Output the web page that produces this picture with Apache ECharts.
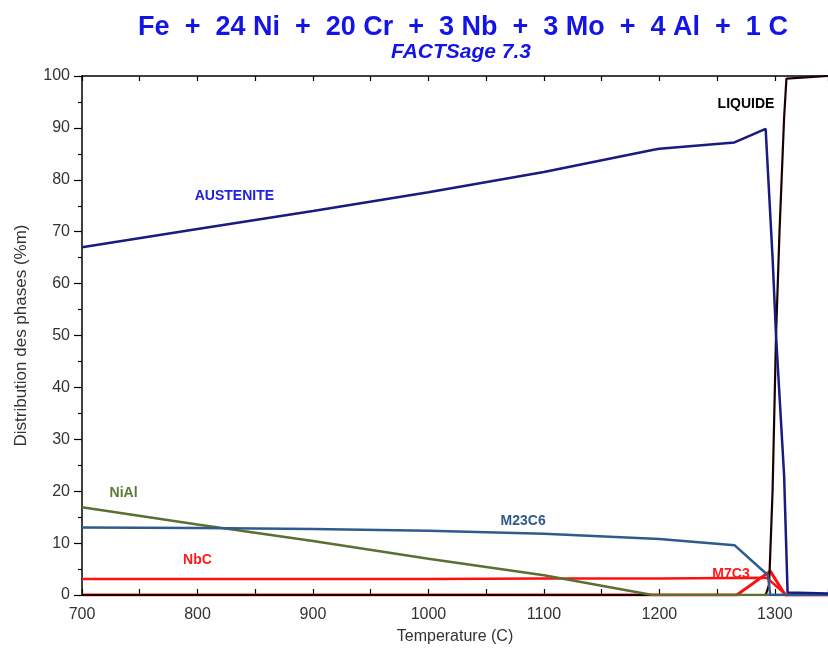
<!DOCTYPE html>
<html>
<head>
<meta charset="utf-8">
<script src="https://cdn.jsdelivr.net/npm/echarts@6/dist/echarts.min.js"></script>
<style>html,body{margin:0;padding:0;background:#fff;}#c{width:828px;height:650px;}</style>
</head>
<body>
<div id="c"></div>
<script>
// Temperatures (C) and phase amounts (%m)
var austeniteT = [700, 800, 900, 1000, 1100, 1195, 1200, 1265, 1292, 1298, 1301, 1308, 1311, 1346];
var austeniteV = [67.0, 70.5, 74.0, 77.6, 81.5, 85.8, 86.0, 87.2, 89.8, 65, 50, 23, 0.5, 0.3];

var liquideT = [700, 1292, 1295, 1298, 1301, 1304, 1308, 1310, 1346];
var liquideV = [0, 0, 2, 20, 50, 70, 92, 99.5, 100];

var m23c6T = [700, 800, 900, 1000, 1100, 1200, 1265, 1294, 1296, 1346];
var m23c6V = [13.0, 12.9, 12.7, 12.4, 11.8, 10.8, 9.6, 3.8, 0, 0];

var nialT = [700, 800, 900, 1000, 1100, 1194, 1346];
var nialV = [16.9, 13.6, 10.4, 7.0, 3.8, 0, 0];

var nbcT = [700, 800, 900, 1000, 1100, 1200, 1293, 1310, 1346];
var nbcV = [3.1, 3.1, 3.1, 3.1, 3.2, 3.2, 3.3, 0, 0];

var m7c3T = [700, 1267, 1296, 1309, 1346];
var m7c3V = [0, 0, 4.6, 0, 0];

var xTicks = [700, 800, 900, 1000, 1100, 1200, 1300];
var yTicks = [0, 10, 20, 30, 40, 50, 60, 70, 80, 90, 100];

function pairs(t, v) { return t.map(function (x, i) { return [x, v[i]]; }); }

var chart = echarts.init(document.getElementById('c'));
var font = 'Liberation Sans, Arial, sans-serif';

function lbl(text, coord, color) {
  return {
    symbol: 'rect', symbolSize: 1, silent: true,
    itemStyle: { color: 'rgba(0,0,0,0)' },
    label: { show: true, position: 'inside', formatter: text, color: color, fontWeight: 'bold', fontSize: 14, fontFamily: font },
    data: [{ coord: coord, name: text }]
  };
}

chart.setOption({
  animation: false,
  backgroundColor: '#fff',
  title: [
    { text: 'Fe  +  24 Ni  +  20 Cr  +  3 Nb  +  3 Mo  +  4 Al  +  1 C', left: 458, top: 9, textAlign: 'center',
      textStyle: { color: '#1414e6', fontSize: 27, fontWeight: 'bold', fontFamily: font } },
    { text: 'FACTSage 7.3', left: 456, top: 37, textAlign: 'center',
      textStyle: { color: '#1414e6', fontSize: 21, fontWeight: 'bold', fontStyle: 'italic', fontFamily: font } }
  ],
  grid: { left: 82, top: 76, right: 0, bottom: 51, containLabel: false },
  xAxis: [{
    type: 'value', min: 700, max: 1346, interval: 100, position: 'bottom',
    name: 'Temperature (C)', nameLocation: 'middle', nameGap: 34,
    nameTextStyle: { color: '#333', fontSize: 16, fontFamily: font },
    axisLine: { show: true, lineStyle: { color: '#000', width: 1.5 } },
    axisTick: { show: true, inside: true, length: 6, lineStyle: { color: '#000', width: 1.2 } },
    minorTick: { show: true, splitNumber: 2, length: 6, lineStyle: { color: '#000', width: 1.2 } },
    axisLabel: { color: '#333', fontSize: 16, fontFamily: font, margin: 12, showMaxLabel: false,
      formatter: function (v) { return xTicks.indexOf(v) >= 0 ? String(v) : ''; } },
    splitLine: { show: false }
  }, {
    type: 'value', min: 700, max: 1346, interval: 50, position: 'top',
    axisLine: { show: true, lineStyle: { color: '#000', width: 1.5 } },
    axisTick: { show: true, inside: true, length: 5, lineStyle: { color: '#000', width: 1.2 } },
    axisLabel: { show: false }, splitLine: { show: false }
  }],
  yAxis: {
    type: 'value', min: 0, max: 100, interval: 10,
    name: 'Distribution des phases (%m)', nameLocation: 'middle', nameGap: 52,
    nameTextStyle: { color: '#333', fontSize: 17, fontFamily: font },
    axisLine: { show: true, lineStyle: { color: '#000', width: 1.5 } },
    axisTick: { show: true, inside: false, length: 8, lineStyle: { color: '#000', width: 1.2 } },
    minorTick: { show: true, splitNumber: 2, length: 4, lineStyle: { color: '#000', width: 1.2 } },
    axisLabel: { color: '#333', fontSize: 16, fontFamily: font, margin: 12,
      formatter: function (v) { return yTicks.indexOf(v) >= 0 ? String(v) : ''; } },
    splitLine: { show: false }
  },
  series: [
    { name: 'M7C3', type: 'line', data: pairs(m7c3T, m7c3V), symbol: 'none', lineStyle: { color: '#ff1010', width: 3 },
      markPoint: lbl('M7C3', [1262, 4.0], '#ff1a1a') },
    { name: 'LIQUIDE', type: 'line', data: pairs(liquideT, liquideV), symbol: 'none', lineStyle: { color: '#1a0000', width: 2.2 },
      markPoint: lbl('LIQUIDE', [1275, 94.6], '#000') },
    { name: 'NbC', type: 'line', data: pairs(nbcT, nbcV), symbol: 'none', lineStyle: { color: '#ff1010', width: 2.5 },
      markPoint: lbl('NbC', [800, 6.65], '#ff1a1a') },
    { name: 'NiAl', type: 'line', data: pairs(nialT, nialV), symbol: 'none', lineStyle: { color: '#5a7032', width: 2.5 },
      markPoint: lbl('NiAl', [736, 19.65], '#5a7a30') },
    { name: 'M23C6', type: 'line', data: pairs(m23c6T, m23c6V), symbol: 'none', lineStyle: { color: '#2f5a8d', width: 2.5 },
      markPoint: lbl('M23C6', [1082, 14.25], '#2f5a8d') },
    { name: 'AUSTENITE', type: 'line', data: pairs(austeniteT, austeniteV), symbol: 'none', lineStyle: { color: '#1a1a80', width: 2.5 },
      markPoint: lbl('AUSTENITE', [832, 76.9], '#2020e0') }
  ]
});
</script>
</body>
</html>
